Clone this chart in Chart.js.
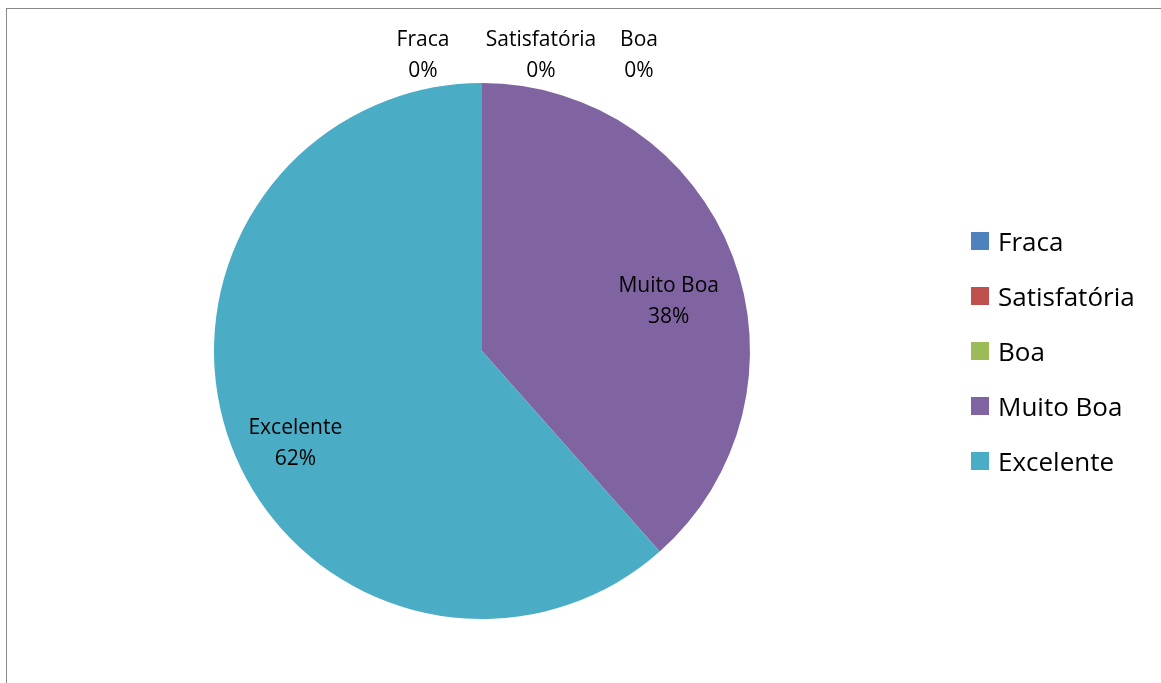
<!DOCTYPE html>
<html>
<head>
<meta charset="utf-8">
<script src="https://cdn.jsdelivr.net/npm/chart.js@4.4.0/dist/chart.umd.min.js"></script>
<style>
    html, body { margin: 0; padding: 0; background: #fff; }
    body { width: 1161px; height: 683px; position: relative; overflow: hidden; font-family: "Open Sans", Lato, sans-serif; }
    .frame { position: absolute; left: 6px; top: 8px; width: 1170px; height: 700px; border: 1.5px solid #878787; box-sizing: border-box; }
    .wrap { position: absolute; left: 0; top: 0; width: 1161px; height: 683px; }
    .legend { position: absolute; left: 971px; top: 213px; }
    .legend div { height: 55px; display: flex; align-items: center; font-size: 26px; color: #000; white-space: nowrap; }
    .legend span { display: inline-block; width: 18px; height: 18px; margin-right: 9px; }
</style>
</head>
<body>
<div class="frame"></div>
<div class="wrap"><canvas id="pieChart"></canvas></div>
<div class="legend" id="legend"></div>
<script>
// data (counts, shown as percentages)
const categories = ['Fraca', 'Satisfatória', 'Boa', 'Muito Boa', 'Excelente'];
const values = [0, 0, 0, 5, 8];
const colors = ['#4F81BD', '#C0504D', '#9BBB59', '#8064A2', '#4BACC6'];

// where the 0% labels sit, sideways from the top of the pie
const zeroLabelShift = [-59, 59, 157];

const total = values.reduce((a, b) => a + b, 0);

// Build the legend on the right
document.getElementById('legend').innerHTML = categories.map((c, i) =>
    `<div><span style="background:${colors[i]}"></span>${c}</div>`).join('');

const pieLabels = {
    id: 'pieLabels',
    afterDatasetsDraw(chart) {
        const ctx = chart.ctx;
        const arcs = chart.getDatasetMeta(0).data;
        let zeroCount = 0;
        ctx.save();
        ctx.font = '21px "Open Sans", Lato, sans-serif';
        ctx.fillStyle = '#000';
        ctx.textAlign = 'center';
        ctx.textBaseline = 'middle';
        arcs.forEach((arc, i) => {
            const p = arc.getProps(['x', 'y', 'startAngle', 'endAngle', 'outerRadius'], true);
            const pct = Math.round(values[i] / total * 100) + '%';
            let x, y;
            if (values[i] === 0) {
                // empty slices: labels lined up above the top of the pie
                x = p.x + zeroLabelShift[zeroCount++];
                y = p.y - p.outerRadius - 28;
            } else {
                const mid = (p.startAngle + p.endAngle) / 2;
                const r = p.outerRadius * 0.745;
                x = p.x + Math.cos(mid) * r;
                y = p.y + Math.sin(mid) * r + 21;
            }
            ctx.fillText(categories[i], x, y - 15);
            ctx.fillText(pct, x, y + 16);
        });
        ctx.restore();
    }
};

new Chart(document.getElementById('pieChart'), {
    type: 'pie',
    data: {
        labels: categories,
        datasets: [{
            data: values,
            backgroundColor: colors,
            borderWidth: 0
        }]
    },
    options: {
        responsive: true,
        maintainAspectRatio: false,
        animation: false,
        layout: { padding: { top: 83, bottom: 64, left: 214, right: 411 } },
        plugins: {
            legend: { display: false },
            tooltip: { enabled: false }
        }
    },
    plugins: [pieLabels]
});
</script>
</body>
</html>
